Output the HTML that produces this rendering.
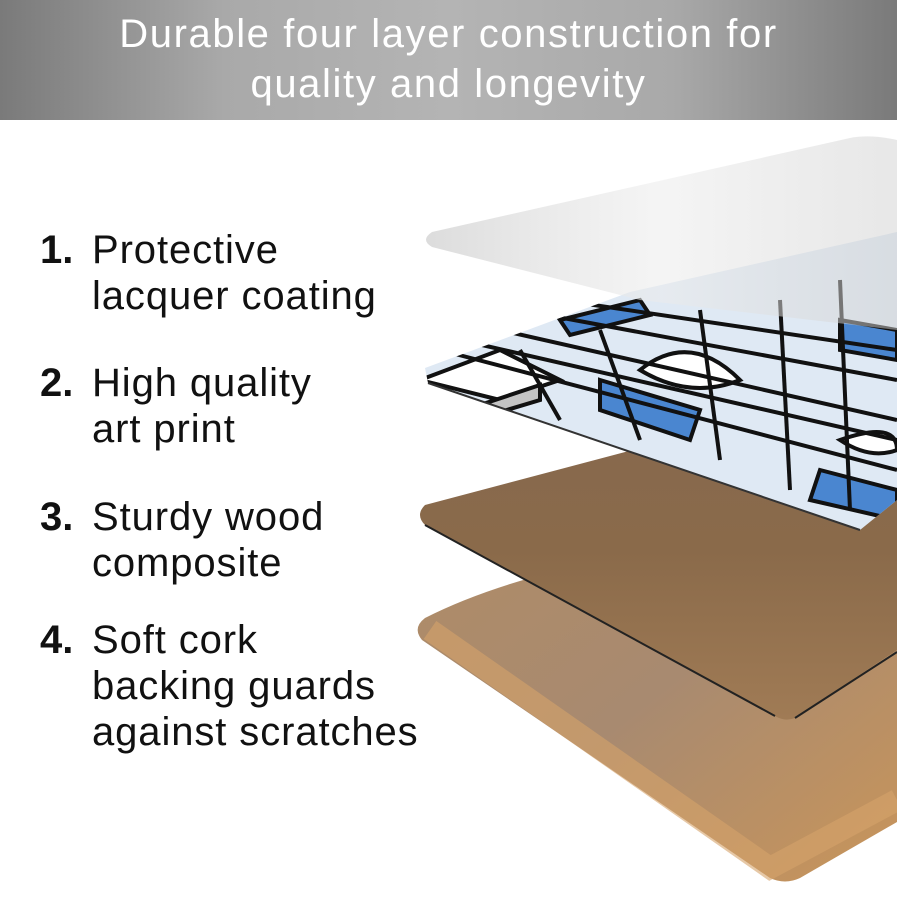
<!DOCTYPE html>
<html><head><meta charset="utf-8"><style>
html,body{margin:0;padding:0;background:#fff;}
body{width:897px;height:897px;position:relative;overflow:hidden;font-family:"Liberation Sans",sans-serif;}
.hdr{position:absolute;left:0;top:0;width:897px;height:120px;background:linear-gradient(90deg,#7a7a7a 0%,#a9a9a9 25%,#b4b4b4 50%,#a9a9a9 75%,#7a7a7a 100%);}
.hdr div{position:absolute;left:0;width:897px;text-align:center;color:#fff;font-size:40px;letter-spacing:1.6px;}
.t{position:absolute;font-size:40px;letter-spacing:0.9px;color:#111;white-space:nowrap;}
.n{position:absolute;left:40px;font-size:40px;font-weight:bold;color:#111;}
</style></head><body>
<div class="hdr"><div style="top:12px">Durable four layer construction for</div><div style="top:62px">quality and longevity</div></div>
<svg style="position:absolute;left:0;top:0" width="897" height="897">
<defs>
<linearGradient id="cork" x1="0" y1="0" x2="1" y2="1"><stop offset="0" stop-color="#b08c66"/><stop offset="0.5" stop-color="#a88a70"/><stop offset="1" stop-color="#c9955a"/></linearGradient>
<linearGradient id="wood" x1="0" y1="0" x2="0" y2="1"><stop offset="0" stop-color="#86684f"/><stop offset="0.5" stop-color="#8a6a4a"/><stop offset="1" stop-color="#a07b55"/></linearGradient>
<linearGradient id="lac" x1="0" y1="0" x2="1" y2="0"><stop offset="0" stop-color="#d6d6d6" stop-opacity="0.85"/><stop offset="0.5" stop-color="#ececec" stop-opacity="0.55"/><stop offset="1" stop-color="#d0d0d0" stop-opacity="0.5"/></linearGradient>
<clipPath id="pc"><path d="M425,368 L630,292 L897,232 L897,500 L860,530 L428,383 Z"/></clipPath>
</defs>
<path d="M425,618 Q480,590 560,570 L897,500 L897,822 L800,878 Q785,885 770,878 L422,640 Q412,628 425,618 Z" fill="url(#cork)"/>
<path d="M430,630 L770,868 L897,800" stroke="#d6a46a" stroke-width="22" fill="none" opacity="0.6"/>
<path d="M425,505 L897,380 L897,650 L795,718 Q785,722 775,716 L425,525 Q415,515 425,505 Z" fill="url(#wood)"/>
<path d="M775,716 L425,525" stroke="#222" stroke-width="2"/>
<path d="M795,718 L897,652" stroke="#222" stroke-width="2"/>
<path d="M425,368 L630,292 L897,232 L897,500 L860,530 L428,383 Z" fill="#dfe9f4"/>
<g clip-path="url(#pc)" stroke="#111" stroke-width="4" fill="none">
<path d="M600,380 L700,410 L690,440 L600,410Z" fill="#4a86d0"/>
<path d="M820,470 L897,490 L897,520 L810,500Z" fill="#4a86d0"/>
<path d="M840,320 L897,330 L897,360 L840,350Z" fill="#4a86d0"/>
<path d="M560,320 L640,300 L650,315 L570,335Z" fill="#4a86d0"/>
<path d="M420,380 L500,350 L560,380 L500,400Z" fill="#fff"/>
<path d="M640,370 Q690,330 740,380 Q690,400 640,370Z" fill="#fff"/>
<path d="M840,440 Q897,420 897,450 Q870,460 840,440Z" fill="#fff"/>
<path d="M480,405 L540,385 L540,400 L490,415Z" fill="#c4c4c4"/>
<path d="M440,350 L897,470"/><path d="M460,340 L897,440"/><path d="M500,330 L897,420"/>
<path d="M520,310 L897,380"/><path d="M560,300 L897,350"/>
<path d="M520,350 L560,420"/><path d="M600,330 L640,440"/><path d="M700,310 L720,460"/>
<path d="M780,300 L790,490"/><path d="M840,280 L850,510"/>
</g>
<path d="M428,383 L860,530" stroke="#333" stroke-width="2"/>
<path d="M432,232 L850,138 Q870,134 897,140 L897,330 L640,300 L432,247 Q420,240 432,232 Z" fill="url(#lac)"/>
</svg>
<div class="n" style="top:228px">1.</div><div class="t" style="left:92px;top:228px">Protective</div>
<div class="t" style="left:92px;top:274px">lacquer coating</div>
<div class="n" style="top:361px">2.</div><div class="t" style="left:92px;top:361px">High quality</div>
<div class="t" style="left:92px;top:407px">art print</div>
<div class="n" style="top:495px">3.</div><div class="t" style="left:92px;top:495px">Sturdy wood</div>
<div class="t" style="left:92px;top:541px">composite</div>
<div class="n" style="top:618px">4.</div><div class="t" style="left:92px;top:618px">Soft cork</div>
<div class="t" style="left:92px;top:664px">backing guards</div>
<div class="t" style="left:92px;top:710px">against scratches</div>
</body></html>
